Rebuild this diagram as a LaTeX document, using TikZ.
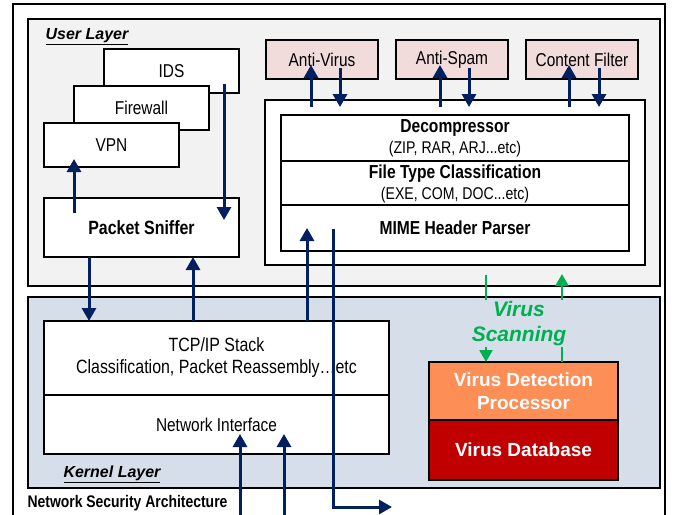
\documentclass[tikz,border=0pt]{standalone}
\usepackage{fontspec}
\setmainfont{Liberation Sans}
\newfontfamily\condsf[FakeStretch=0.83]{Liberation Sans}
\usetikzlibrary{arrows.meta}

\definecolor{navy}{RGB}{0,32,96}
\definecolor{userbg}{RGB}{242,242,242}
\definecolor{kernbg}{RGB}{214,222,234}
\definecolor{pinkbox}{RGB}{242,220,219}
\definecolor{detorange}{RGB}{252,142,86}
\definecolor{dbred}{RGB}{192,0,0}
\definecolor{scangreen}{RGB}{0,176,80}

\tikzset{
  frame/.style={draw=black, line width=1.5pt},
  layer/.style={draw=black, line width=1.5pt, inner sep=0pt, outer sep=0pt},
  box/.style={draw=black, line width=1.5pt, fill=white, inner sep=0pt, outer sep=0pt,
              align=center, font=\condsf\fontsize{18.6}{21}\selectfont},
  boldbox/.style={box, font=\condsf\bfseries\fontsize{18.8}{21}\selectfont},
  svcbox/.style={box, fill=pinkbox, minimum width=112pt, minimum height=39pt},
  navyarrow/.style={draw=navy, line width=3pt, -{Triangle[width=14pt,length=13pt]}},
  greenarrow/.style={draw=scangreen, line width=2.4pt, -{Triangle[width=13pt,length=12pt]}},
  greenline/.style={draw=scangreen, line width=2.4pt},
  layerlabel/.style={inner sep=0pt, font=\bfseries\itshape\fontsize{16}{19}\selectfont},
}

\begin{document}
\begin{tikzpicture}[x=1pt,y=-1pt]
\useasboundingbox (0,0) rectangle (676,514);
\clip (0,0) rectangle (676,514);
\fill[white] (0,0) rectangle (676,514);

% outer frame, open at the bottom
\draw[frame] (13,530) -- (13,4) -- (665,4) -- (665,530);

% the two layers
\node[layer, fill=userbg, minimum width=632pt, minimum height=267pt] (user) at (344,152.5) {};
\node[layer, fill=kernbg, minimum width=632pt, minimum height=191pt] (kernel) at (344,392.5) {};
\node[layerlabel] (userlbl) at (87,37) {\underline{User Layer}};
\node[layerlabel] (kernlbl) at (112,474) {\underline{Kernel Layer}};
\node[inner sep=0pt, font=\condsf\bfseries\fontsize{16.8}{19}\selectfont] (title) at (127.5,503)
  {Network Security Architecture};

% user-space security tools (stacked)
\node[box, minimum width=135pt, minimum height=44pt] (ids) at (171.5,71) {IDS};
\node[box, minimum width=135pt, minimum height=44pt] (fw) at (141.5,108) {Firewall};
\node[box, minimum width=135pt, minimum height=44pt] (vpn) at (111.5,145) {VPN};
\node[boldbox, minimum width=195pt, minimum height=59pt, font=\condsf\bfseries\fontsize{19.2}{21}\selectfont]
  (sniffer) at (141.5,227.5) {Packet Sniffer};

% content services
\node[svcbox] (av) at (322,59.5) {Anti-Virus};
\node[svcbox] (as) at (452,59.5) {Anti-Spam};
\node[svcbox] (cf) at (582,59.5) {Content Filter};

% content processing engine
\node[box, minimum width=380pt, minimum height=165pt] (engine) at (455,182.5) {};
\node[boldbox, minimum width=348pt, minimum height=46pt] (dec) at (455,138)
  {Decompressor\\{\mdseries\fontsize{17}{21}\selectfont (ZIP, RAR, ARJ...etc)}};
\node[boldbox, minimum width=348pt, minimum height=45pt] (ftc) at (455,183.5)
  {File Type Classification\\{\mdseries\fontsize{17}{21}\selectfont (EXE, COM, DOC...etc)}};
\node[boldbox, minimum width=348pt, minimum height=46pt] (mime) at (455,228) {MIME Header Parser};

% kernel stack
\node[box, minimum width=345pt, minimum height=74pt, font=\condsf\fontsize{19.2}{22}\selectfont]
  (tcp) at (216.5,358) {TCP/IP Stack\\Classification, Packet Reassembly\dots etc};
\node[box, minimum width=345pt, minimum height=59pt] (nif) at (216.5,424.5) {Network Interface};

% virus detection hardware
\node[box, fill=detorange, text=white, minimum width=189pt, minimum height=58pt,
      font=\bfseries\fontsize{19}{23}\selectfont] (vdp) at (523.5,391) {Virus Detection\\Processor};
\node[box, fill=dbred, text=white, minimum width=189pt, minimum height=60pt,
      font=\bfseries\fontsize{19}{23}\selectfont] (vdb) at (523.5,450) {Virus Database};

% connector end points
\coordinate (vpnfrom) at (74,213);
\coordinate (vpnto) at (74,159);
\coordinate (idsfrom) at (224,84);
\coordinate (idsto) at (224,220);
\coordinate (xdown) at (89,0);
\coordinate (xup) at (193,0);
\coordinate (mimeto) at (307,228);
\coordinate (mimefrom) at (333,229);
\coordinate (bend) at (333,507);
\coordinate (outto) at (392,507);
\coordinate (in1) at (240,520);
\coordinate (in1to) at (240,434);
\coordinate (in2) at (284,520);
\coordinate (in2to) at (284,434);

% user-space tool arrows
\draw[navyarrow] (vpnfrom) -- (vpnto);
\draw[navyarrow] (idsfrom) -- (idsto);
\draw[navyarrow] (sniffer.south -| xdown) -- (tcp.north -| xdown);
\draw[navyarrow] (tcp.north -| xup) -- (sniffer.south -| xup);

% packets into the engine and out again
\draw[navyarrow] (tcp.north -| mimeto) -- (mimeto);
\draw[navyarrow] (mimefrom) -- (bend) -- (outto);
\draw[navyarrow] (in1) -- (in1to);
\draw[navyarrow] (in2) -- (in2to);

% engine <-> service arrows
\foreach \s/\xu/\xd in {av/311/340, as/440/469, cf/569/599}{
  \coordinate (\s-up) at (\xu,107);
  \coordinate (\s-uptip) at (\xu,65);
  \coordinate (\s-dn) at (\xd,68);
  \coordinate (\s-dntip) at (\xd,107);
  \draw[navyarrow] (\s-up) -- (\s-uptip);
  \draw[navyarrow] (\s-dn) -- (\s-dntip);
}

% virus scanning path
\coordinate (gl1) at (486,275);
\coordinate (gl2) at (486,300);
\coordinate (gl3) at (486,347);
\coordinate (gr1) at (562,347);
\coordinate (gr2) at (562,300);
\coordinate (gr3) at (562,274);
\draw[greenline] (gl1) -- (gl2);
\draw[greenarrow] (gl3) -- (vdp.north -| gl3);
\draw[greenline] (vdp.north -| gr1) -- (gr1);
\draw[greenarrow] (gr2) -- (gr3);
\node[text=scangreen, align=center, inner sep=0pt,
      font=\bfseries\itshape\fontsize{21}{25}\selectfont] (scan) at (519,323.5) {Virus\\Scanning};

\end{tikzpicture}
\end{document}
